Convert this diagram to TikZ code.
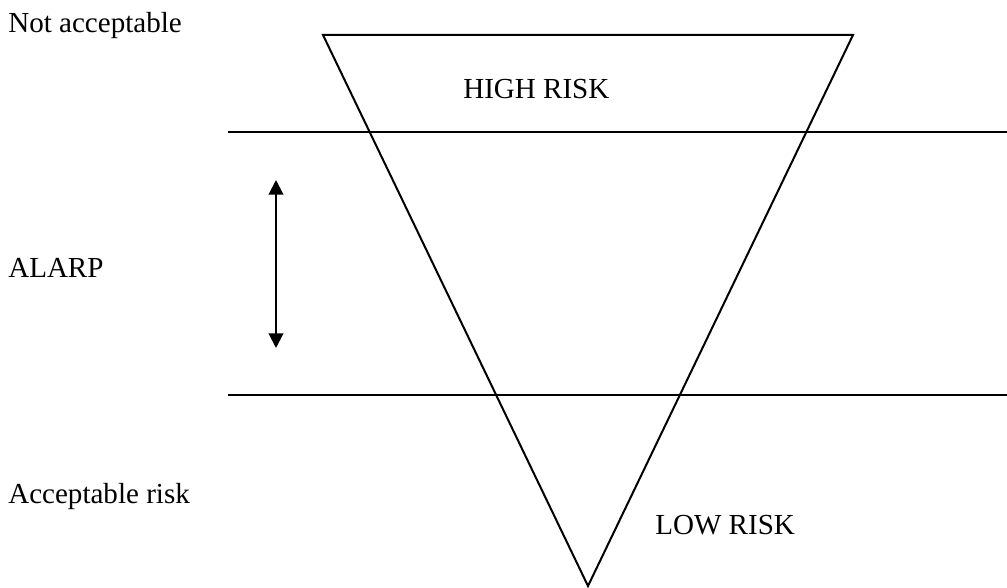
\documentclass[tikz,border=0pt]{standalone}
\usepackage{fontspec}
\setmainfont{Liberation Serif}
\usepackage{tikz}
\usetikzlibrary{arrows.meta, positioning}
\tikzstyle{label} = [inner sep=0pt, anchor=base west, font=\fontsize{21.8pt}{26pt}\selectfont]
\tikzstyle{level} = [line width=1.5pt]
\tikzstyle{arrow} = [line width=1.5pt, {Triangle[width=11pt,length=11pt]}-{Triangle[width=11pt,length=11pt]}]

\begin{document}
\begin{tikzpicture}[x=0.75pt, y=-0.75pt]
    \useasboundingbox (0,0) rectangle (1007,588);
    % risk triangle
    \coordinate (topleft) at (323,35);
    \coordinate (topright) at (853,35);
    \coordinate (apex) at (588,586);
    \draw[level, line join=miter] (topleft) -- (topright) -- (apex) -- cycle;

    % limits
    \coordinate (upperstart) at (228,132);
    \coordinate (upperend) at (1007,132);
    \coordinate (lowerstart) at (228,395);
    \coordinate (lowerend) at (1007,395);
    \draw[level] (upperstart) -- (upperend);
    \draw[level] (lowerstart) -- (lowerend);

    % labels
    \node (notacc) [label] at (8,33) {Not acceptable};
    \node (high) [label] at (463,99) {HIGH RISK};
    \node (alarp) [label] at (8,277) {ALARP};
    \node (acc) [label] at (8,503) {Acceptable risk};
    \node (low) [label] at (655,534) {LOW RISK};

    \coordinate (arrowtop) at (276,180);
    \coordinate (arrowbottom) at (276,348);
    \draw[arrow] (arrowtop) -- (arrowbottom);
  \end{tikzpicture}
\end{document}
